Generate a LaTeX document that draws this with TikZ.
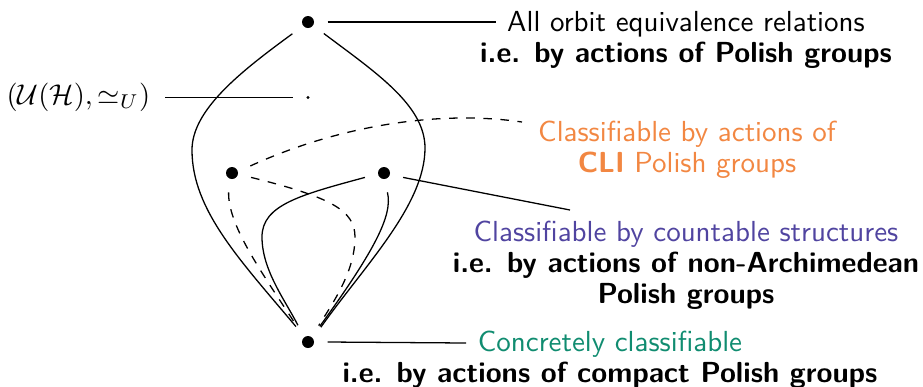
\documentclass[tikz,border=0pt]{standalone}
\definecolor{orng}{RGB}{242,135,66}
\definecolor{purp}{RGB}{80,68,160}
\definecolor{grn}{RGB}{16,140,112}
\begin{document}
\begin{tikzpicture}[x=0.35pt,y=-0.35pt,
  dot/.style={circle,inner sep=0pt,minimum size=13.3pt,
    label={[circle,fill,inner sep=0pt,minimum size=4.2pt]center:{}}},
  tinydot/.style={circle,inner sep=0pt,minimum size=9.8pt,
    label={[circle,fill,inner sep=0pt,minimum size=1.2pt]center:{}}},
  lab/.style={align=center,inner sep=0pt,font=\sffamily\fontsize{10.15}{10.8}\selectfont},
  conn/.style={line width=0.45pt}]
\useasboundingbox (0,0) rectangle (923,386);
% dots
\node[dot] (top) at (308,22) {};
\node[tinydot] (mid) at (308,97.5) {};
\node[dot] (L) at (232,173) {};
\node[dot] (R) at (384,173) {};
\node[dot] (bot) at (308,342) {};
% labels
\node[lab] (allrel) at (686,40) {All orbit equivalence relations\\\textbf{i.e. by actions of Polish groups}};
\node[lab,text=orng] (cli) at (687,150) {Classifiable by actions of\\\textbf{CLI} Polish groups};
\node[lab] (ctbl) at (686,265) {\textcolor{purp}{Classifiable by countable structures}\\\textbf{i.e. by actions of non-Archimedean}\\\textbf{Polish groups}};
\node[lab] (conc) at (610,360) {\textcolor{grn}{Concretely classifiable}\\\textbf{i.e. by actions of compact Polish groups}};
\node[anchor=east,inner xsep=5pt,inner ysep=0pt] (uh) at (165,97.5) {$(\mathcal{U}(\mathcal{H}),\simeq_U)$};
% free ends of label connectors
\coordinate (allrelend) at (496,22);
\coordinate (cliend) at (522,122);
\coordinate (ctblend) at (570,210);
\coordinate (concend) at (466,343);
% label connectors
\draw[conn] (top.0) -- (allrelend);
\draw[conn] (R.347) -- (ctblend);
\draw[conn] (bot.0) -- (concend);
\draw[conn] (uh.east) -- (mid);
% outer curves
\draw[conn] (top.217) .. controls (240,72) and (192,110) .. (192,150)
  .. controls (192,210) and (240,260) .. (bot.128);
\draw[conn] (top.324) .. controls (375,72) and (425,105) .. (425,148)
  .. controls (425,205) and (365,265) .. (bot.49);
% inner curves
\draw[conn,dashed] (L.260) .. controls (228,225) and (260,270) .. (bot.125);
\draw[conn,dashed] (L.347) .. controls (330,197) and (355,210) .. (355,237)
  .. controls (355,270) and (335,300) .. (bot.57);
\draw[conn] (R.193) .. controls (300,195) and (262,205) .. (262,237)
  .. controls (262,270) and (285,300) .. (bot.121);
\draw[conn] (R.280) .. controls (393,215) and (375,250) .. (bot.53);
\draw[conn,dashed] (L.21) .. controls (340,125) and (440,110) .. (cliend);
\end{tikzpicture}
\end{document}
